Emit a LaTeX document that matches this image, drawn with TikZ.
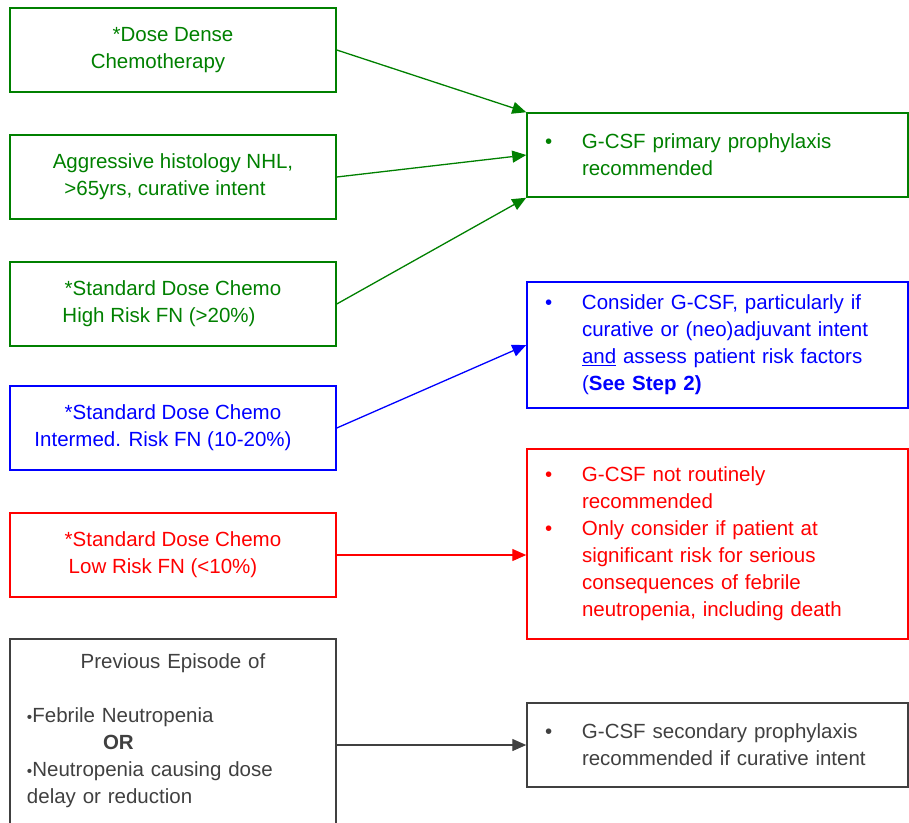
\documentclass[tikz,border=0pt]{standalone}
\usepackage{fontspec}
\setmainfont{Liberation Sans}
\usetikzlibrary{arrows.meta}
\definecolor{cgreen}{RGB}{0,128,0}
\definecolor{cblue}{RGB}{0,0,255}
\definecolor{cred}{RGB}{255,0,0}
\definecolor{cgray}{RGB}{64,64,64}
\newcommand{\fs}{\fontsize{20.5}{27}\selectfont}
\newcommand{\bl}{\makebox[37pt][l]{\textbullet}}
\newcommand{\ind}{\hspace*{37pt}}
\newcommand{\sbul}{\raisebox{0.5pt}{\scalebox{0.75}{\textbullet}}}
\begin{document}
\begin{tikzpicture}[x=1pt,y=-1pt,
  lbox/.style={draw, line width=1.5pt, minimum width=326pt, minimum height=84pt, inner sep=0pt, align=center, font=\fs},
  rbox/.style={draw, line width=1.5pt, text width=345pt, inner xsep=18pt, inner ysep=0pt, align=left, font=\fs},
  conn/.style={line width=1.3pt, -{Triangle[length=14pt,width=12pt]}},
]
\useasboundingbox (0,0) rectangle (909,822);

% left boxes
\node[lbox, cgreen] (a1) at (173,50) {*Dose Dense\\Chemotherapy\kern30pt};
\node[lbox, cgreen] (a2) at (173,177) {Aggressive histology NHL,\\>65yrs, curative intent\kern16pt};
\node[lbox, cgreen] (a3) at (173,304) {*Standard Dose Chemo\\High Risk FN (>20\%)\kern28pt};
\node[lbox, cblue] (a4) at (173,428) {*Standard Dose Chemo\\Intermed. Risk FN (10-20\%)\kern20pt};
\node[lbox, cred] (a5) at (173,555) {*Standard Dose Chemo\\Low Risk FN (<10\%)\kern20pt};
\node[lbox, cgray, anchor=north, align=left, text width=292pt, inner xsep=17pt, inner ysep=15pt] (a6) at (173,638)
  {\makebox[292pt]{Previous Episode of}\\\mbox{}\\\sbul Febrile Neutropenia\\\hspace*{76pt}\textbf{OR}\\\sbul Neutropenia causing dose\\delay or reduction\\\mbox{}};

% right boxes
\node[rbox, cgreen, minimum height=84pt] (r1) at (717.5,155)
  {\bl G-CSF primary prophylaxis\\\ind recommended};
\node[rbox, cblue, minimum height=126pt] (r2) at (717.5,345)
  {\bl Consider G-CSF, particularly if\\\ind curative or (neo)adjuvant intent\\\ind \underline{and} assess patient risk factors\\\ind (\textbf{See Step 2)}};
\node[rbox, cred, minimum height=190pt] (r3) at (717.5,544)
  {\bl G-CSF not routinely\\\ind recommended\\\bl Only consider if patient at\\\ind significant risk for serious\\\ind consequences of febrile\\\ind neutropenia, including death};
\node[rbox, cgray, minimum height=84pt] (r4) at (717.5,745)
  {\bl G-CSF secondary prophylaxis\\\ind recommended if curative intent};

% connectors
\draw[conn, cgreen] (a1.east) -- (r1.north west);
\draw[conn, cgreen] (a2.east) -- (r1.west);
\draw[conn, cgreen] (a3.east) -- (r1.south west);
\draw[conn, cblue] (a4.east) -- (r2.west);
\draw[conn, cred] (a5.east) -- (a5.east -| r3.west);
\draw[conn, cgray] (a6.east |- r4.west) -- (r4.west);
\end{tikzpicture}
\end{document}
